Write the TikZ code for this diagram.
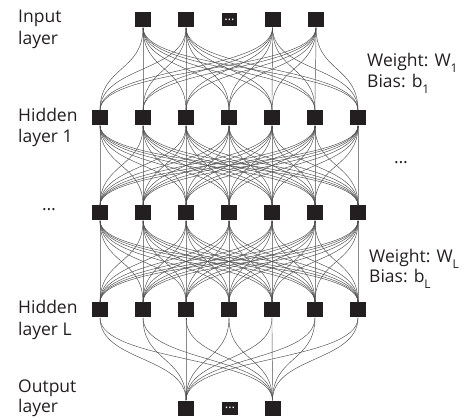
\documentclass[tikz,border=0pt]{standalone}
\usepackage{fontspec}
\setmainfont{Open Sans}
\definecolor{nodecol}{HTML}{231F20}
\newcommand{\mysub}[1]{\raisebox{-0.3em}{\fontsize{12}{12}\selectfont #1}}
\begin{document}
\begin{tikzpicture}[x=1pt,y=1pt,
  neuron/.style={fill=nodecol, draw=none, minimum width=16pt, minimum height=15pt, inner sep=0pt},
  dotbox/.style={fill=nodecol, draw=none, minimum width=15.5pt, minimum height=13pt, inner sep=0pt, text=white, font=\fontsize{13}{13}\selectfont},
  conn/.style={draw=black!70, line width=0.45pt},
  lbl/.style={anchor=base west, inner sep=0pt, font=\fontsize{17.5}{20}\selectfont, text=nodecol},
  dotlbl/.style={inner sep=0pt, font=\fontsize{17.5}{20}\selectfont, text=nodecol}
]
\useasboundingbox (0,0) rectangle (467,-420);
% input layer
\node[neuron] (i1) at (143,-20) {};
\node[neuron] (i2) at (186,-20) {};
\node[dotbox] (i3) at (229.5,-20) {…};
\node[neuron] (i4) at (272.5,-20) {};
\node[neuron] (i5) at (316,-20) {};
% hidden layers
\foreach \x [count=\i] in {100,143,186,229,272,315,358} {
  \node[neuron] (h\i) at (\x,-118) {};
  \node[neuron] (m\i) at (\x,-213) {};
  \node[neuron] (l\i) at (\x,-310) {};
}
% output layer
\node[neuron] (o1) at (186,-408) {};
\node[dotbox] (o2) at (230,-408) {…};
\node[neuron] (o3) at (272.5,-408) {};
% connectors
\foreach \s in {1,2,4,5} \foreach \t in {1,...,7}
  \draw[conn] (i\s.south) .. controls +(0,-44) and +(0,44) .. (h\t.north);
\foreach \s in {1,...,7} \foreach \t in {1,...,7}
  \draw[conn] (h\s.south) .. controls +(0,-42) and +(0,42) .. (m\t.north);
\foreach \s in {1,...,7} \foreach \t in {1,...,7}
  \draw[conn] (m\s.south) .. controls +(0,-44) and +(0,44) .. (l\t.north);
\foreach \s in {1,...,7} \foreach \t in {1,3}
  \draw[conn] (l\s.south) .. controls +(0,-44) and +(0,44) .. (o\t.north);
% labels
\node[lbl] (t1a) at (18,-23) {Input};
\node[lbl] (t1b) at (18,-45) {layer};
\node[lbl] (t2a) at (18,-122) {Hidden};
\node[lbl] (t2b) at (18,-143) {layer 1};
\node[dotlbl] (t3) at (49,-210) {…};
\node[lbl] (t4a) at (18,-313) {Hidden};
\node[lbl] (t4b) at (18,-335) {layer L};
\node[lbl] (t5a) at (18,-392) {Output};
\node[lbl] (t5b) at (18,-413) {layer};
\node[lbl] (w1) at (367,-67) {Weight: W\mysub{1}};
\node[lbl] (b1) at (367,-88) {Bias: b\mysub{1}};
\node[dotlbl] (rd) at (401,-163) {…};
\node[lbl] (wl) at (369,-263) {Weight: W\mysub{L}};
\node[lbl] (bl) at (369,-283) {Bias: b\mysub{L}};
\end{tikzpicture}
\end{document}
